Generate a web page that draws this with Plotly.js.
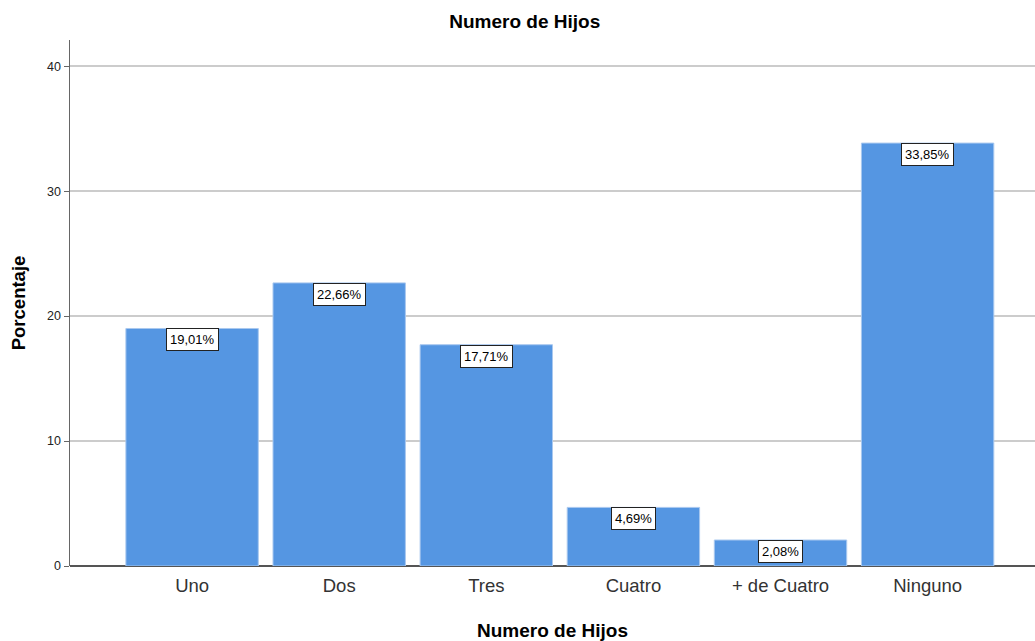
<!DOCTYPE html>
<html><head><meta charset="utf-8">
<script src="https://cdn.plot.ly/plotly-3.0.1.min.js"></script>
<style>html,body{margin:0;padding:0;background:#fff}#c{width:1035px;height:641px}</style>
</head><body><div id="c"></div>
<script>
const categories = ["Uno","Dos","Tres","Cuatro","+ de Cuatro","Ninguno"];
const values = [19.01, 22.66, 17.71, 4.69, 2.08, 33.85];
const labels = ["19,01%","22,66%","17,71%","4,69%","2,08%","33,85%"];
const yTicks = [0,10,20,30,40];

const FONT = "Liberation Sans, Arial, sans-serif";
const trace = {
  type: "bar", x: categories, y: values,
  marker: {color: "#5596E2", line: {color: "#a9c8ef", width: 1}},
  hoverinfo: "none"
};
const annotations = categories.map((c,i)=>({
  x: c, y: values[i], xref: "x", yref: "y", yanchor: "top", yshift: 0,
  text: labels[i], showarrow: false,
  font: {family: FONT, size: 13, color: "#000"},
  bgcolor: "#fff", bordercolor: "#222", borderwidth: 1, borderpad: 3
}));
const layout = {
  width: 1035, height: 641,
  margin: {l: 70, r: 0, t: 40, b: 75},
  paper_bgcolor: "#fff", plot_bgcolor: "#fff",
  bargap: 0.1,
  showlegend: false,
  title: {text: "<b>Numero de Hijos</b>", x: 0.507, xanchor: "center", y: 0.966, yanchor: "middle",
          font: {family: FONT, size: 19, color: "#000"}},
  xaxis: {range: [-0.83, 5.73], showgrid: false, zeroline: false, showline: false,
          ticks: "", ticklabelstandoff: 6,
          tickfont: {family: FONT, size: 18.5, color: "#333"},
          title: {text: "<b>Numero de Hijos</b>", standoff: 30, font: {family: FONT, size: 19, color: "#000"}}},
  yaxis: {range: [0, 42.1], tickvals: yTicks, showgrid: true, gridcolor: "#cccccc", gridwidth: 1.5,
          zeroline: true, zerolinecolor: "#555", zerolinewidth: 1.5,
          showline: true, linecolor: "#666", linewidth: 1.5,
          ticks: "outside", ticklen: 5, tickcolor: "#666",
          tickfont: {family: FONT, size: 12.5, color: "#222"},
          title: {text: "<b>Porcentaje</b>", standoff: 16, font: {family: FONT, size: 18.5, color: "#000"}}},
  annotations: annotations
};
Plotly.newPlot("c", [trace], layout, {displayModeBar: false, staticPlot: true});
</script></body></html>
